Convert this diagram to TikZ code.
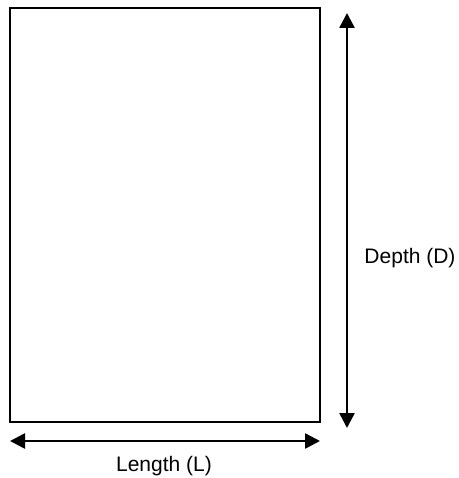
\documentclass[tikz,border=0pt]{standalone}
\usepackage{fontspec}
\setmainfont{Liberation Sans}
\usetikzlibrary{arrows.meta}

\tikzset{
  dimline/.style={{Triangle[length=15pt,width=15pt]}-{Triangle[length=15pt,width=15pt]},line width=2.6pt},
  dimlabel/.style={font=\fontsize{21}{25}\selectfont,inner sep=0pt}
}

\begin{document}
\begin{tikzpicture}[x=1pt,y=-1pt]
\useasboundingbox (0,0) rectangle (458,478);
\node[draw,line width=2pt,minimum width=310pt,minimum height=414pt,inner sep=0pt] (plate) at (165,215) {};
\coordinate (dtop) at (347,13);  \coordinate (dbot) at (347,428);
\coordinate (lleft) at (10,441); \coordinate (lright) at (320,441);
\draw[dimline] (dtop) -- (dbot);
\draw[dimline] (lleft) -- (lright);
\node[dimlabel] (depth) at (410,258) {Depth (D)};
\node[dimlabel] (length) at (164,466) {Length (L)};
\end{tikzpicture}
\end{document}
